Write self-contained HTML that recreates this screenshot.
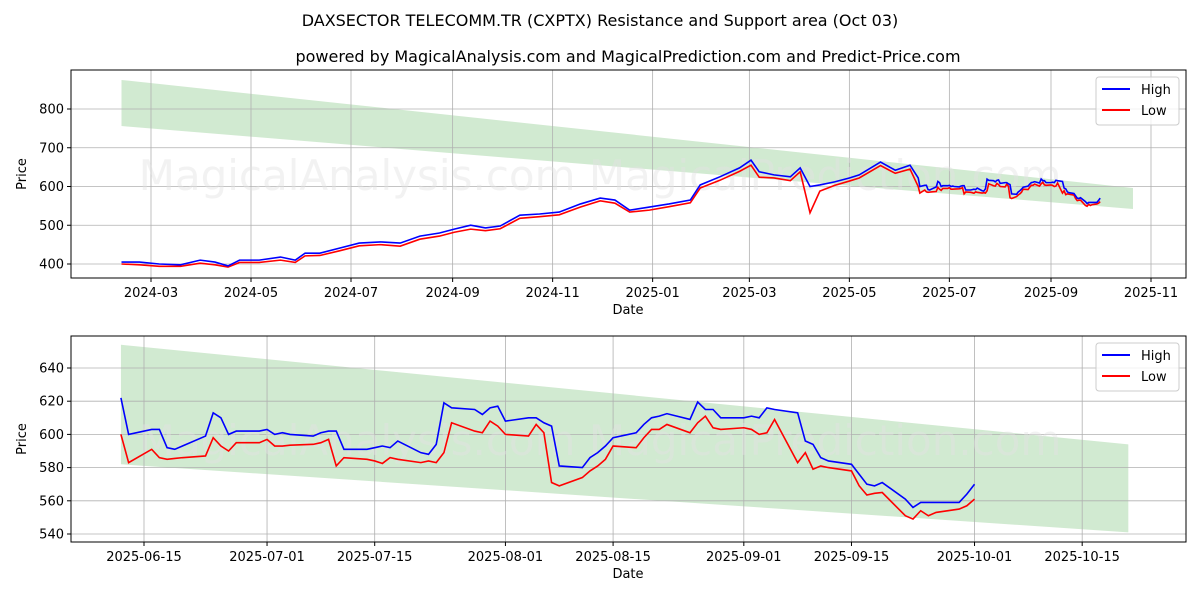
<!DOCTYPE html>
<html><head><meta charset="utf-8"><style>body{margin:0;background:#fff}svg{display:block;font-family:"DejaVu Sans","Liberation Sans",sans-serif}</style></head>
<body>
<svg id="c" width="1200" height="600" viewBox="0 0 1200 600"></svg>
<script>
// Top chart: day offsets from 2024-03-01 (early part), high/low values
const topDays=[-18,-7,5,18,30,39,47,54,66,79,88,94,103,115,127,140,152,164,176,185,195,204,213,225,237,249,262,274,283,292,304,316,329,335,347,359,366,371,380,390,396,402,408,417,426,432,445,454,463];
const topHigh=[405,405,400,398,410,405,395,410,410,418,410,428,428,441,454,457,454,472,480,490,500,493,498,526,529,534,555,570,565,539,547,555,565,604,625,648,668,638,630,625,648,600,604,612,622,630,663,642,655];
const topLow=[400,398,394,394,402,398,392,404,404,410,404,421,422,434,447,450,446,464,472,482,490,486,491,518,522,527,547,563,557,534,539,548,558,596,616,639,655,624,622,615,638,532,588,603,614,622,654,634,645];
// Recent detail: day offsets from 2025-06-15
const recDays=[-3,-2,1,2,3,4,5,8,9,10,11,12,15,16,17,18,19,22,23,24,25,26,29,30,31,32,33,36,37,38,39,40,43,44,45,46,47,50,51,52,53,54,57,58,59,60,61,64,65,66,67,68,71,72,73,74,75,78,79,80,81,82,85,86,87,88,89,92,93,94,95,96,99,100,101,102,103,106,107,108];
const recHigh=[622,600,603,603,592,591,593,599,613,610,600,602,602,603,600,601,600,599,601,602,602,591,591,592,593,592,596,589,588,594,619,616,615,612,616,617,608,610,610,607,605,581,580,586,589,593,598,601,606,610,611,612.5,609,619.5,615,615,610,610,611,610,616,615,613,596,594,586,584,582,576,570,569,571,561,556,559,559,559,559,564,570];
const recLow=[600,583,591,586,585,585.5,586,587,598,593,590,595,595,597,593,593,593.5,594,595,597,581,586,585,584,582.5,586,585,583,584,583,589,607,602,601,608,605,600,599,606,601,571,569,574,578,581,585,593,592,598,603,603,606,601,607,611,604,603,604,603,600,601,609,583,589,579,581,580,578,569,563.5,564.5,565,551,549,554,551,553,555,557,561];
const topTicksY=[400,500,600,700,800];
const botTicksY=[540,560,580,600,620,640];
const topTickLabels=["2024-03","2024-05","2024-07","2024-09","2024-11","2025-01","2025-03","2025-05","2025-07","2025-09","2025-11"];
const topTickDays=[0,61,122,184,245,306,365,426,487,549,610];
const botTickLabels=["2025-06-15","2025-07-01","2025-07-15","2025-08-01","2025-08-15","2025-09-01","2025-09-15","2025-10-01","2025-10-15"];
const botTickDays=[0,16,30,47,61,78,92,108,122];
const topBand=[-18,599,875,756,596,542];
const botBand=[-3,128,654,582,594,541];

const NS="http://www.w3.org/2000/svg",svg=document.getElementById('c');
function el(t,a,p){const e=document.createElementNS(NS,t);for(const k in a)e.setAttribute(k,a[k]);(p||svg).appendChild(e);return e;}
function txt(s,a,p){const e=el('text',a,p);e.textContent=s;return e;}
const OFF=471;
function panel(o){
  const g=el('g',{});
  
  
  const X=d=>o.x0+(d-o.d0)*o.px, Y=v=>o.yb-(v-o.v0)*o.py;
  const b=o.band;
  const band=el('polygon',{points:`${X(b[0])},${Y(b[2])} ${X(b[1])},${Y(b[4])} ${X(b[1])},${Y(b[5])} ${X(b[0])},${Y(b[3])}`,fill:'#2ca02c','fill-opacity':0.22},g);
  
  
  o.tDays.forEach((d,i)=>{
    const x=X(d);
    el('line',{x1:x,x2:x,y1:o.top,y2:o.bot,stroke:'#b0b0b0','stroke-width':0.8},g);
    el('line',{x1:x,x2:x,y1:o.bot,y2:o.bot+4,stroke:'#000'},g);
    const t=txt(o.tLabels[i],{x:x,y:o.bot+19,'font-size':13,'text-anchor':'middle'},g);
    
    
  });
  o.yTicks.forEach(v=>{
    const y=Y(v);
    el('line',{x1:71,x2:1186,y1:y,y2:y,stroke:'#b0b0b0','stroke-width':0.8},g);
    el('line',{x1:67,x2:71,y1:y,y2:y,stroke:'#000'},g);
    const t=txt(v,{x:64,y:y+4.5,'font-size':13,'text-anchor':'end'},g);
    
    
  });
  const wm=txt('MagicalAnalysis.com    MagicalPrediction.com',{x:600,y:(o.top+o.bot)/2+16,'font-size':42,'text-anchor':'middle',fill:'#e2e2e2','fill-opacity':0.45},g);
  
  
  const line=(ds,vs,c,n)=>{const p=el('polyline',{points:ds.map((d,i)=>X(d)+','+Y(vs[i])).join(' '),fill:'none',stroke:c,'stroke-width':1.6},g);
    };
  line(o.days,o.low,'#ff0000','low-line');
  line(o.days,o.high,'#0000ff','high-line');
  el('rect',{x:71,y:o.top,width:1115,height:o.bot-o.top,fill:'none',stroke:'#000','stroke-width':1},g);
  const xl=txt('Date',{x:628,y:o.bot+36,'font-size':13,'text-anchor':'middle'},g);
  
  const yl=txt('Price',{x:0,y:0,'font-size':13,'text-anchor':'middle',transform:`translate(26,${(o.top+o.bot)/2}) rotate(-90)`},g);
  
  const lg=el('g',{},g);
  
  el('rect',{x:1096,y:o.top+7,width:83,height:48,rx:3,fill:'#fff','fill-opacity':0.8,stroke:'#ccc'},lg);
  el('line',{x1:1102,x2:1130,y1:o.top+19,y2:o.top+19,stroke:'#0000ff','stroke-width':2},lg);
  txt('High',{x:1141,y:o.top+24,'font-size':13},lg);
  el('line',{x1:1102,x2:1130,y1:o.top+40,y2:o.top+40,stroke:'#ff0000','stroke-width':2},lg);
  txt('Low',{x:1141,y:o.top+45,'font-size':13},lg);
}
const allDays=topDays.concat(recDays.map(d=>d+OFF));
panel({name:'top-chart',top:70,bot:278,x0:151,d0:0,px:100/61,yb:264,v0:400,py:0.3875,
  band:topBand,tDays:topTickDays,tLabels:topTickLabels,yTicks:topTicksY,
  days:allDays,high:topHigh.concat(recHigh),low:topLow.concat(recLow)});
panel({name:'bottom-chart',top:336,bot:542,x0:144,d0:0,px:7.69,yb:534,v0:540,py:1.66,
  band:botBand,tDays:botTickDays,tLabels:botTickLabels,yTicks:botTicksY,
  days:recDays,high:recHigh,low:recLow});
const t1=txt('DAXSECTOR TELECOMM.TR (CXPTX) Resistance and Support area (Oct 03)',{x:600,y:26,'font-size':16,'text-anchor':'middle'});

const t2=txt('powered by MagicalAnalysis.com and MagicalPrediction.com and Predict-Price.com',{x:628,y:62,'font-size':16,'text-anchor':'middle'});

</script>
</body></html>
